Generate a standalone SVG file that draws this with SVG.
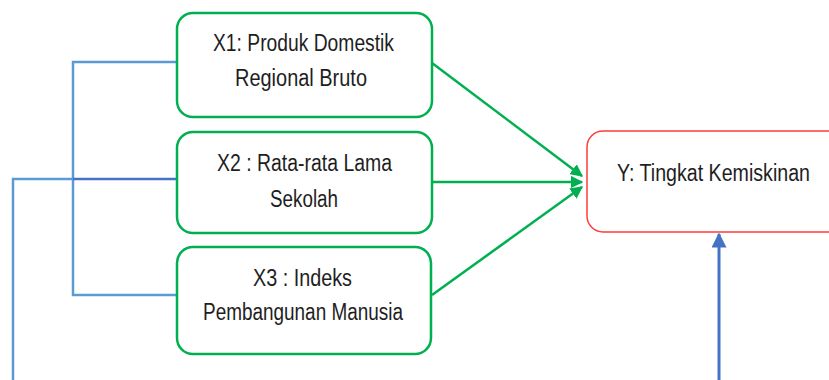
<svg xmlns="http://www.w3.org/2000/svg" width="829" height="380" viewBox="0 0 829 380">
<style>
.box{fill:#fff;stroke:#00b050;stroke-width:2.5}
.ybox{fill:#fff;stroke:#ff3b3b;stroke-width:1.5}
.t{font-family:"Liberation Sans","DejaVu Sans",sans-serif;font-size:23px;fill:#1e1e1e}
.g{stroke:#00b050;stroke-width:2.5;fill:none}
.b{stroke:#5b9bd5;stroke-width:2.5;fill:none}
</style>
<defs>
<marker id="ag" viewBox="0 0 10 10" refX="9" refY="5" markerWidth="5" markerHeight="5" orient="auto" markerUnits="strokeWidth"><path d="M0,0 L10,5 L0,10 z" fill="#00b050"/></marker>
<marker id="ab" viewBox="0 0 10 10" refX="9" refY="5" markerWidth="5" markerHeight="5" orient="auto" markerUnits="strokeWidth"><path d="M0,0 L10,5 L0,10 z" fill="#4472c4"/></marker>
</defs>
<g id="connectors">
<path class="g" d="M432,63 L582,176" marker-end="url(#ag)"/>
<path class="g" d="M433,182 L582,182" marker-end="url(#ag)"/>
<path class="g" d="M432,295 L582,187" marker-end="url(#ag)"/>
<path class="b" d="M177,62 L73,62 L73,295 L177,295"/>
<path class="b" d="M13,380 L13,179 L73,179"/>
<path d="M73,179 L177,179" stroke="#4472c4" stroke-width="2.5" fill="none"/>
<path d="M719,380 L719,234" stroke="#4472c4" stroke-width="3" fill="none" marker-end="url(#ab)"/>
</g>
<g id="x1">
<rect class="box" x="177" y="13" width="255" height="104" rx="16"/>
<text class="t" x="213" y="51" textLength="181" lengthAdjust="spacingAndGlyphs">X1: Produk Domestik</text>
<text class="t" x="235" y="86" textLength="132" lengthAdjust="spacingAndGlyphs">Regional Bruto</text>
</g>
<g id="x2">
<rect class="box" x="177" y="132" width="255" height="101" rx="16"/>
<text class="t" x="217" y="171" textLength="175" lengthAdjust="spacingAndGlyphs">X2 : Rata-rata Lama</text>
<text class="t" x="270" y="207" textLength="68" lengthAdjust="spacingAndGlyphs">Sekolah</text>
</g>
<g id="x3">
<rect class="box" x="177" y="247" width="254" height="107" rx="16"/>
<text class="t" x="253" y="286" textLength="99" lengthAdjust="spacingAndGlyphs">X3 : Indeks</text>
<text class="t" x="203" y="320" textLength="200" lengthAdjust="spacingAndGlyphs">Pembangunan Manusia</text>
</g>
<g id="y">
<rect class="ybox" x="587" y="131" width="260" height="101" rx="16"/>
<text class="t" x="617" y="181" textLength="193" lengthAdjust="spacingAndGlyphs">Y: Tingkat Kemiskinan</text>
</g>
</svg>
